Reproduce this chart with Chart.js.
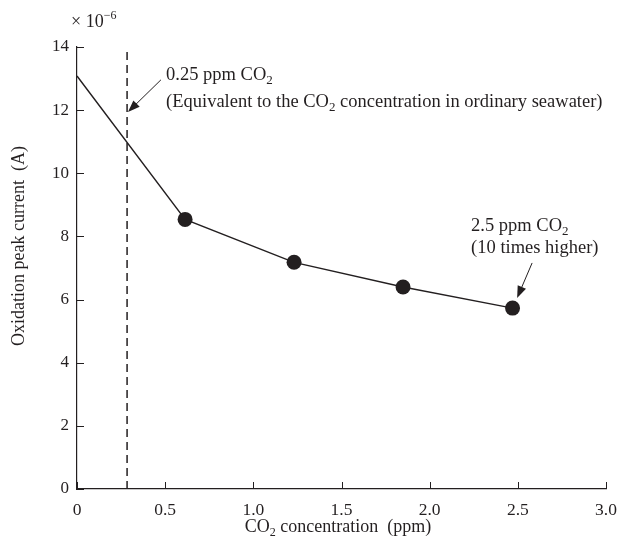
<!DOCTYPE html>
<html>
<head>
<meta charset="utf-8">
<script src="https://cdn.jsdelivr.net/npm/chart.js@4.4.1/dist/chart.umd.min.js"></script>
<style>
  html, body { margin: 0; padding: 0; background: #fff; }
  #wrap { width: 619px; height: 545px; }
</style>
</head>
<body>
<div id="wrap"><canvas id="chart" width="619" height="545"></canvas></div>
<script>
// CO2 concentration (ppm) and oxidation peak current (x 10^-6 A)
const co2Ppm = [0, 0.613, 1.231, 1.849, 2.47];
const peakCurrent = [13.08, 8.54, 7.18, 6.40, 5.73];
const showMarker = [false, true, true, true, true];

// dashed line marking ordinary seawater level
const seawaterX = 0.284;
const seawaterY = [0, 14];

const ink = "#231f20";
const serif = '"Liberation Serif", "Times New Roman", serif';

// draws text made of parts, some of them sub/superscript
function richText(ctx, x, y, parts, align, size) {
    const big = size + "px " + serif, small = Math.round(size * 0.68) + "px " + serif;
    let w = 0;
    parts.forEach(p => {
        ctx.font = p[1] ? small : big;
        w += ctx.measureText(p[0]).width;
    });
    let cx = align === "center" ? x - w / 2 : x;
    ctx.textBaseline = "middle";
    ctx.textAlign = "left";
    parts.forEach(p => {
        ctx.font = p[1] ? small : big;
        let dy = p[1] === "sub" ? size * 0.3 : p[1] === "sup" ? -size * 0.35 : 0;
        ctx.fillText(p[0], cx, y + dy);
        cx += ctx.measureText(p[0]).width;
    });
}

function arrow(ctx, x1, y1, x2, y2) {
    const ang = Math.atan2(y2 - y1, x2 - x1);
    const hl = 12, hw = 4.5;
    ctx.beginPath();
    ctx.moveTo(x1, y1);
    ctx.lineTo(x2 - Math.cos(ang) * hl * 0.8, y2 - Math.sin(ang) * hl * 0.8);
    ctx.stroke();
    ctx.beginPath();
    ctx.moveTo(x2, y2);
    ctx.lineTo(x2 - hl * Math.cos(ang) + hw * Math.sin(ang), y2 - hl * Math.sin(ang) - hw * Math.cos(ang));
    ctx.lineTo(x2 - hl * Math.cos(ang) - hw * Math.sin(ang), y2 - hl * Math.sin(ang) + hw * Math.cos(ang));
    ctx.closePath();
    ctx.fill();
}

const decor = {
    id: "decor",
    afterDraw(chart) {
        const ctx = chart.ctx;
        const xs = chart.scales.x, ys = chart.scales.y;
        ctx.save();
        ctx.strokeStyle = ink;
        ctx.fillStyle = ink;
        ctx.lineWidth = 1;

        // inward tick marks
        xs.ticks.forEach(t => {
            const px = Math.round(xs.getPixelForValue(t.value)) + 0.5;
            ctx.beginPath();
            ctx.moveTo(px, ys.bottom);
            ctx.lineTo(px, ys.bottom - 7);
            ctx.stroke();
        });
        ys.ticks.forEach(t => {
            const py = Math.round(ys.getPixelForValue(t.value)) + 0.5;
            ctx.beginPath();
            ctx.moveTo(xs.left, py);
            ctx.lineTo(xs.left + 7, py);
            ctx.stroke();
        });

        // axis titles
        richText(ctx, 338, 527, [["CO"], ["2", "sub"], [" concentration  (ppm)"]], "center", 18);
        ctx.save();
        ctx.translate(19, 246);
        ctx.rotate(-Math.PI / 2);
        richText(ctx, 0, 0, [["Oxidation peak current  (A)"]], "center", 18);
        ctx.restore();

        // exponent
        richText(ctx, 71, 22, [["\u00d7 10"], ["\u22126", "sup"]], "left", 18);

        // annotations
        const ax = v => xs.getPixelForValue(v), ay = v => ys.getPixelForValue(v);
        richText(ctx, ax(0.505), ay(13.1), [["0.25 ppm CO"], ["2", "sub"]], "left", 18.5);
        richText(ctx, ax(0.505), ay(12.25), [["(Equivalent to the CO"], ["2", "sub"], [" concentration in ordinary seawater)"]], "left", 18.5);
        arrow(ctx, ax(0.476), ay(12.96), ax(0.289), ay(11.94));

        richText(ctx, ax(2.235), ay(8.32), [["2.5 ppm CO"], ["2", "sub"]], "left", 18.5);
        richText(ctx, ax(2.235), ay(7.63), [["(10 times higher)"]], "left", 18.5);
        arrow(ctx, ax(2.581), ay(7.16), ax(2.496), ay(6.05));
        ctx.restore();
    }
};

new Chart(document.getElementById("chart"), {
    type: "scatter",
    data: {
        datasets: [
            {
                data: co2Ppm.map((x, i) => ({ x: x, y: peakCurrent[i] })),
                showLine: true,
                borderColor: ink,
                borderWidth: 1.4,
                pointRadius: showMarker.map(m => m ? 7.5 : 0),
                pointBackgroundColor: ink,
                pointBorderColor: ink,
                pointBorderWidth: 0
            },
            {
                data: seawaterY.map(y => ({ x: seawaterX, y: y })),
                showLine: true,
                borderColor: ink,
                borderWidth: 1.5,
                borderDash: [8, 5],
                pointRadius: 0
            }
        ]
    },
    options: {
        responsive: false,
        animation: false,
        layout: { padding: { top: 47, right: 13, left: 0, bottom: 0 } },
        plugins: { legend: { display: false }, tooltip: { enabled: false } },
        scales: {
            x: {
                type: "linear",
                min: 0, max: 3,
                ticks: {
                    stepSize: 0.5,
                    color: ink,
                    padding: 11,
                    maxRotation: 0,
                    font: { family: serif, size: 17.5 },
                    callback: v => v === 0 ? "0" : v.toFixed(1)
                },
                grid: { display: true, drawOnChartArea: false, drawTicks: false },
                border: { color: ink, width: 1.2 },
                afterFit: s => { s.height = 56; s.paddingLeft = 0; s.paddingRight = 0; }
            },
            y: {
                min: 0, max: 14,
                ticks: {
                    stepSize: 2,
                    color: ink,
                    padding: 8,
                    font: { family: serif, size: 17 }
                },
                grid: { display: true, drawOnChartArea: false, drawTicks: false },
                border: { color: ink, width: 1.2 },
                afterFit: s => { s.width = 77; s.paddingTop = 0; s.paddingBottom = 0; }
            }
        }
    },
    plugins: [decor]
});
</script>
</body>
</html>
